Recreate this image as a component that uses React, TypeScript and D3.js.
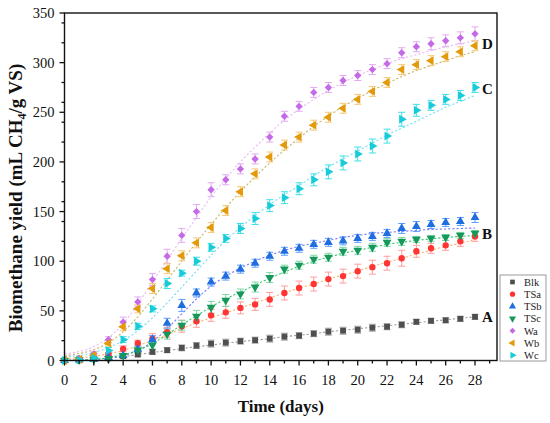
import * as d3 from 'd3';

// Time axis (days) and series
const DAYS = [0, 1, 2, 3, 4, 5, 6, 7, 8, 9, 10, 11, 12, 13, 14, 15, 16, 17, 18, 19, 20, 21, 22, 23, 24, 25, 26, 27, 28];
const SERIES_NAMES = ['Blk', 'TSa', 'TSb', 'TSc', 'Wa', 'Wb', 'Wc'];

const blk = [0, 1, 1.7, 2.3, 4.4, 6, 8.7, 10.4, 12.7, 15, 17, 18, 19.5, 20.5, 22, 24, 25, 27, 29, 30, 31, 33, 34, 36, 39, 40, 40.5, 42, 44];
const tsa = [0, 1.7, 2.7, 6, 11.7, 17.5, 22, 28.5, 34.5, 39.5, 45.5, 48.5, 53, 56.5, 61.5, 68, 73, 77, 82, 85, 90, 94, 98, 103, 110, 113, 116, 120, 125];
const tsb = [0, 0.5, 1, 3, 5, 11.5, 21, 37.5, 55.5, 68, 79, 85, 92, 98, 105, 110, 113, 117, 119, 120.5, 123, 125, 128, 133, 135, 137, 139, 140, 144];
const tsc = [0, 0.5, 1, 2, 5, 10.5, 15.5, 26.5, 35.5, 44.5, 53.5, 60.5, 67, 74, 83.5, 92, 96, 102, 104, 110, 111, 114, 119, 120, 122, 123, 124, 126, 128];
const wa = [0, 1.5, 6.7, 21, 38.7, 59, 81.5, 105, 126, 150, 172, 182, 193, 203, 225, 246, 256, 270, 275, 282, 287, 293, 299, 310, 316, 319, 322, 325, 329];
const wb = [0, 1, 5.4, 17.5, 34, 52, 72.5, 92.5, 105.5, 118.5, 134, 151, 170, 188, 205, 217, 225, 237, 245, 254, 263, 271, 280, 293, 298, 302, 306, 311, 317];
const wc = [0, 0.5, 2.5, 10, 21, 34.5, 52, 77.5, 88, 100, 114, 123, 133, 143, 156, 164, 173, 182, 190, 199, 208, 216, 226, 243, 252, 257, 263, 267, 275];

// standard deviations (error bars)
const blkErr = [0.5, 1, 1, 1.5, 2, 2, 2.5, 2.5, 3, 3, 3.5, 3.5, 3, 3, 3.5, 3.5, 3, 3, 3.5, 3.5, 3.5, 3.5, 3, 3, 2.5, 2.5, 2.5, 2.5, 2.5];
const tsaErr = [0.5, 1, 1.5, 2, 3, 3, 5, 5, 6, 6, 6, 6, 6, 6, 7, 7, 7, 7, 7, 7, 7, 7, 7, 8, 6, 5, 5, 5, 5];
const tsbErr = [0.5, 0.5, 1, 1.5, 2, 3, 4, 5, 6, 4, 4, 4, 4, 4, 4, 4, 4, 4, 4, 4, 4, 4, 4, 5, 5, 4, 4, 4, 5];
const tscErr = [0.5, 0.5, 1, 1.5, 2, 3, 4, 5, 5, 6, 6, 6, 5, 5, 5, 4, 4, 4, 4, 4, 4, 4, 4, 4, 3, 3, 3, 3, 3];
const waErr = [0.5, 1, 2, 3, 5, 5, 6, 7, 7, 7, 7, 5, 5, 5, 5, 5, 5, 5, 5, 5, 5, 5, 5, 5, 5, 6, 6, 6, 7];
const wbErr = [0.5, 1, 1.5, 3, 4, 4, 5, 5, 5, 5, 5, 5, 5, 5, 5, 5, 5, 5, 5, 5, 5, 5, 5, 5, 5, 5, 5, 5, 5];
const wcErr = [0.5, 1, 1.5, 3, 3, 3, 3, 5, 3, 4, 4, 4, 5, 6, 6, 6, 6, 6, 7, 7, 7, 7, 7, 7, 6, 5, 5, 5, 5];

// fitted model curves (dotted), read at each day
const blkFit = [0, 0.5, 1, 2.5, 4, 6, 8, 10, 12, 14, 15.5, 17.5, 19, 20.5, 22, 24, 25.5, 27, 29, 30.5, 32, 33.5, 35, 36.5, 38, 39.5, 41, 42.5, 44];
const tsaFit = [2, 3, 4, 7, 10, 15, 20, 26, 32, 38, 43, 48, 53, 58, 63, 68, 73, 77, 82, 86, 90, 95, 99, 103, 107, 111, 115, 118, 122];
const tsbFit = [0, 0.3, 1, 2.5, 5, 10, 19, 32, 47, 62, 75, 85, 93, 100, 106, 111, 115, 118, 121, 124, 126, 128, 129, 130, 131, 132, 132.5, 133, 133.5];
const tscFit = [0, 0.3, 1, 3, 6, 10, 17, 26, 36, 45, 54, 62, 69, 76, 83, 89, 95, 100, 104, 108, 111, 114, 117, 119, 121, 122.5, 124, 125, 126];
const waFit = [7, 9, 14, 23, 37, 57, 79, 101, 123, 144, 165, 183, 200, 215, 229, 242, 253, 263, 272, 280, 287, 293, 299, 304, 308, 312, 316, 319, 322];
const wbFit = [5, 7, 11, 18, 29, 44, 62, 81, 100, 119, 137, 154, 170, 185, 199, 212, 224, 236, 246, 256, 264, 272, 279, 286, 292, 297, 302, 307, 311];
const wcFit = [4, 5, 8, 13, 20, 30, 43, 58, 74, 90, 106, 121, 134, 146, 157, 167, 176, 186, 195, 203, 211, 219, 227, 234, 241, 248, 255, 261, 267];

const CURVE_LABELS = ['A', 'B', 'C', 'D'];
const CURVE_LABEL_AT = [44, 128, 274, 319.5];

const FONT = '"Liberation Serif", "Times New Roman", serif';

type Marker = 'square' | 'circle' | 'up' | 'down' | 'diamond' | 'left' | 'right';
const STYLE: { marker: Marker; color: string; err: string; fit: string }[] = [
  { marker: 'square',  color: '#4f4f4f', err: '#a3a3a3', fit: '#9a9a9a' },
  { marker: 'circle',  color: '#ff3535', err: '#ff9c9c', fit: '#ffb36b' },
  { marker: 'up',      color: '#1f6ee0', err: '#5d9dff', fit: '#7777ff' },
  { marker: 'down',    color: '#16985a', err: '#7ad6a6', fit: '#2fcf6a' },
  { marker: 'diamond', color: '#c46ae6', err: '#e2a9f2', fit: '#ebb9f7' },
  { marker: 'left',    color: '#e39a0a', err: '#f5c978', fit: '#c8b66c' },
  { marker: 'right',   color: '#17ccd8', err: '#3be0e8', fit: '#7adff0' },
];

const VALUES = [blk, tsa, tsb, tsc, wa, wb, wc];
const ERRORS = [blkErr, tsaErr, tsbErr, tscErr, waErr, wbErr, wcErr];
const FITS = [blkFit, tsaFit, tsbFit, tscFit, waFit, wbFit, wcFit];

function symbolPath(m: Marker, size: number) {
  if (m === 'square') return { d: d3.symbol(d3.symbolSquare, size)()!, rot: 0 };
  if (m === 'circle') return { d: d3.symbol(d3.symbolCircle, size)()!, rot: 0 };
  if (m === 'diamond') return { d: d3.symbol(d3.symbolSquare, size * 0.8)()!, rot: 45 };
  const tri = d3.symbol(d3.symbolTriangle, size)()!;
  const rot = m === 'up' ? 0 : m === 'down' ? 180 : m === 'left' ? -90 : 90;
  return { d: tri, rot };
}

export default function App() {
  const W = 550, H = 423;
  const x = d3.scaleLinear().domain([0, 29.5]).range([64.5, 497]);
  const y = d3.scaleLinear().domain([0, 350]).range([360.5, 13]);
  const [x0, x1] = x.range();
  const [y0, y1] = y.range();

  const line = d3.line<number>()
    .x((_, i) => x(DAYS[i]))
    .y(v => y(v))
    .curve(d3.curveMonotoneX);

  const xMajor = x.ticks(15);
  const xMinor = x.ticks(30).filter(t => !xMajor.includes(t));
  const yMajor = y.ticks(7);
  const yMinor = y.ticks(14).filter(t => !yMajor.includes(t));

  const legendX = 500, legendY = 275, legendRow = 12.2;

  return (
    <svg width={W} height={H} style={{ position: 'absolute', left: 0, top: 0, background: '#fff' }} fontFamily={FONT}>
      {/* fitted curves */}
      {FITS.map((f, s) => (
        <path key={`fit${s}`} d={line(f) ?? ''} fill="none" stroke={STYLE[s].fit}
          strokeWidth={1.1} strokeDasharray="2.2,2" />
      ))}

      {/* error bars */}
      {VALUES.map((vals, s) => (
        <g key={`err${s}`} stroke={STYLE[s].err} strokeWidth={1}>
          {vals.map((v, i) => {
            const cx = x(DAYS[i]), top = y(v + ERRORS[s][i]), bot = y(Math.max(0, v - ERRORS[s][i]));
            return (
              <g key={i}>
                <line x1={cx} x2={cx} y1={top} y2={bot} />
                <line x1={cx - 3.5} x2={cx + 3.5} y1={top} y2={top} />
                <line x1={cx - 3.5} x2={cx + 3.5} y1={bot} y2={bot} />
              </g>
            );
          })}
        </g>
      ))}

      {/* markers */}
      {VALUES.map((vals, s) => {
        const sym = symbolPath(STYLE[s].marker, STYLE[s].marker === 'circle' ? 32 : 34);
        return (
          <g key={`pts${s}`} fill={STYLE[s].color}>
            {vals.map((v, i) => (
              <path key={i} d={sym.d}
                transform={`translate(${x(DAYS[i])},${y(v)}) rotate(${sym.rot})`} />
            ))}
          </g>
        );
      })}

      {/* frame */}
      <rect x={x0} y={y1} width={x1 - x0} height={y0 - y1} fill="none" stroke="#111" strokeWidth={1.4} />

      {/* axis ticks */}
      <g stroke="#111" strokeWidth={1.3}>
        {xMajor.map(t => <line key={`xM${t}`} x1={x(t)} x2={x(t)} y1={y0} y2={y0 + 5} />)}
        {xMinor.map(t => <line key={`xm${t}`} x1={x(t)} x2={x(t)} y1={y0} y2={y0 + 3} />)}
        {yMajor.map(t => <line key={`yM${t}`} x1={x0} x2={x0 - 5} y1={y(t)} y2={y(t)} />)}
        {yMinor.map(t => <line key={`ym${t}`} x1={x0} x2={x0 - 3} y1={y(t)} y2={y(t)} />)}
      </g>
      <g fontSize={14.5} fill="#111">
        {xMajor.map(t => (
          <text key={`xl${t}`} x={x(t)} y={385} textAnchor="middle">{t}</text>
        ))}
        {yMajor.map(t => (
          <text key={`yl${t}`} x={x0 - 10} y={y(t) + 5} textAnchor="end">{t}</text>
        ))}
      </g>

      {/* axis titles */}
      <text x={(x0 + x1) / 2} y={412} textAnchor="middle" fontSize={17} fontWeight="bold" fill="#111">Time (days)</text>
      <text transform="translate(22,198) rotate(-90)" textAnchor="middle" fontSize={19}
        fontWeight="bold" fill="#111">
        Biomethane yield (mL CH<tspan fontSize={12} dy={4}>4</tspan><tspan dy={-4}>/g VS)</tspan>
      </text>

      {/* curve group labels */}
      {CURVE_LABELS.map((l, i) => (
        <text key={l} x={x(28) + 7} y={y(CURVE_LABEL_AT[i]) + 5.5} fontSize={15} fontWeight="bold" fill="#111">{l}</text>
      ))}

      {/* legend */}
      <rect x={legendX} y={legendY} width={46} height={86} fill="#fff" stroke="#9a9a9a" strokeWidth={1} />
      {SERIES_NAMES.map((name, s) => {
        const sym = symbolPath(STYLE[s].marker, 22);
        const cy = legendY + 7 + s * legendRow;
        return (
          <g key={name}>
            <path d={sym.d} fill={STYLE[s].color} transform={`translate(${legendX + 12.5},${cy}) rotate(${sym.rot})`} />
            <text x={legendX + 24} y={cy + 3.8} fontSize={10.5} fill="#222">{name}</text>
          </g>
        );
      })}
    </svg>
  );
}
